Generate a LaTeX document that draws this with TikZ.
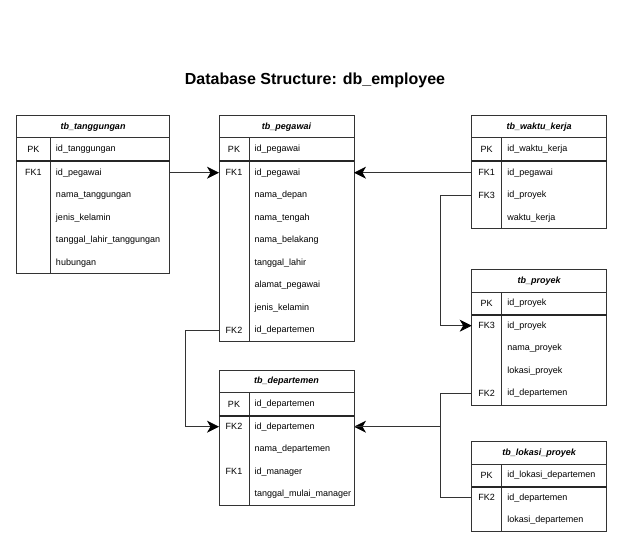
\documentclass[tikz,border=0pt]{standalone}
\usepackage{fontspec}
\setmainfont{Liberation Sans}
\usetikzlibrary{arrows.meta}

\begin{document}
\begin{tikzpicture}[x=1pt,y=-1pt,
  box/.style={draw=black!80,line width=0.8pt},
  sep/.style={draw=black!85,line width=1.6pt},
  hdr/.style={font=\fontsize{9}{10}\selectfont\bfseries\itshape},
  key/.style={font=\fontsize{9}{10}\selectfont},
  fld/.style={anchor=west,inner sep=0pt,font=\fontsize{9}{10}\selectfont},
  link/.style={draw=black!80,line width=0.8pt,-{Stealth[length=12pt,width=12pt,inset=3.5pt,color=black]}}]
  \useasboundingbox (0,0) rectangle (633,543);

  \node[font=\fontsize{16}{19}\selectfont\bfseries] (title) at (315,80) {Database Structure: db\_employee};

  % tb_tanggungan
  \draw[box] (16.3,115.7) rectangle (169.7,273.7);
  \draw[box] (16.3,137.7) -- (169.7,137.7);
  \draw[box] (50.3,137.7) -- (50.3,273.7);
  \draw[sep] (16.3,161.3) -- (169.7,161.3);
  \node[hdr] (tang-h) at (93,126.7) {tb\_tanggungan};
  \node[key] (tang-pk) at (33.3,149.5) {PK};
  \node[fld] (tang-0) at (55.8,149.5) {id\_tanggungan};
  \node[key] (tang-fk1) at (33.3,172.7) {FK1};
  \foreach \t [count=\i] in {id\_pegawai,nama\_tanggungan,jenis\_kelamin,tanggal\_lahir\_tanggungan,hubungan} {
    \node[fld] (tang-\i) at (55.8,{172.7+22.5*(\i-1)}) {\t};
  }
  \coordinate (tang-out) at (169.7,172.7);

  % tb_pegawai
  \draw[box] (219,115.7) rectangle (354,341);
  \draw[box] (219,137.7) -- (354,137.7);
  \draw[box] (249,137.7) -- (249,341);
  \draw[sep] (219,161.3) -- (354,161.3);
  \node[hdr] (peg-h) at (286.5,126.7) {tb\_pegawai};
  \node[key] (peg-pk) at (234,149.5) {PK};
  \node[fld] (peg-0) at (254.5,149.5) {id\_pegawai};
  \node[key] (peg-fk1) at (234,172.7) {FK1};
  \node[key] (peg-fk2) at (234,330.2) {FK2};
  \foreach \t [count=\i] in {id\_pegawai,nama\_depan,nama\_tengah,nama\_belakang,tanggal\_lahir,alamat\_pegawai,jenis\_kelamin,id\_departemen} {
    \node[fld] (peg-\i) at (254.5,{172.7+22.5*(\i-1)}) {\t};
  }
  \coordinate (peg-in1) at (219,172.7);
  \coordinate (peg-in2) at (354,172.7);
  \coordinate (peg-out) at (219,330.2);

  % tb_waktu_kerja
  \draw[box] (471.7,115.7) rectangle (606.7,228.7);
  \draw[box] (471.7,137.7) -- (606.7,137.7);
  \draw[box] (501.7,137.7) -- (501.7,228.7);
  \draw[sep] (471.7,161.3) -- (606.7,161.3);
  \node[hdr] (wk-h) at (539.2,126.7) {tb\_waktu\_kerja};
  \node[key] (wk-pk) at (486.7,149.5) {PK};
  \node[fld] (wk-0) at (507.2,149.5) {id\_waktu\_kerja};
  \node[key] (wk-fk1) at (486.7,172.7) {FK1};
  \node[key] (wk-fk3) at (486.7,195.2) {FK3};
  \foreach \t [count=\i] in {id\_pegawai,id\_proyek,waktu\_kerja} {
    \node[fld] (wk-\i) at (507.2,{172.7+22.5*(\i-1)}) {\t};
  }
  \coordinate (wk-out1) at (471.7,172.7);
  \coordinate (wk-out2) at (471.7,195.2);

  % tb_proyek
  \draw[box] (471.7,269.3) rectangle (606.7,405);
  \draw[box] (471.7,292) -- (606.7,292);
  \draw[box] (501.7,292) -- (501.7,405);
  \draw[sep] (471.7,315) -- (606.7,315);
  \node[hdr] (pro-h) at (539.2,280.7) {tb\_proyek};
  \node[key] (pro-pk) at (486.7,303.5) {PK};
  \node[fld] (pro-0) at (507.2,303.5) {id\_proyek};
  \node[key] (pro-fk3) at (486.7,325.7) {FK3};
  \node[key] (pro-fk2) at (486.7,393.2) {FK2};
  \foreach \t [count=\i] in {id\_proyek,nama\_proyek,lokasi\_proyek,id\_departemen} {
    \node[fld] (pro-\i) at (507.2,{325.7+22.5*(\i-1)}) {\t};
  }
  \coordinate (pro-in) at (471.7,325.7);
  \coordinate (pro-out) at (471.7,393.2);

  % tb_departemen
  \draw[box] (219,370) rectangle (354,505.3);
  \draw[box] (219,392.3) -- (354,392.3);
  \draw[box] (249,392.3) -- (249,505.3);
  \draw[sep] (219,415.7) -- (354,415.7);
  \node[hdr] (dep-h) at (286.5,381.2) {tb\_departemen};
  \node[key] (dep-pk) at (234,404) {PK};
  \node[fld] (dep-0) at (254.5,404) {id\_departemen};
  \node[key] (dep-fk2) at (234,426.7) {FK2};
  \node[key] (dep-fk1) at (234,471.7) {FK1};
  \foreach \t [count=\i] in {id\_departemen,nama\_departemen,id\_manager,tanggal\_mulai\_manager} {
    \node[fld] (dep-\i) at (254.5,{426.7+22.5*(\i-1)}) {\t};
  }
  \coordinate (dep-in1) at (219,426.7);
  \coordinate (dep-in2) at (354,426.7);

  % tb_lokasi_proyek
  \draw[box] (471.7,441.3) rectangle (606.7,531.7);
  \draw[box] (471.7,464) -- (606.7,464);
  \draw[box] (501.7,464) -- (501.7,531.7);
  \draw[sep] (471.7,486.7) -- (606.7,486.7);
  \node[hdr] (lok-h) at (539.2,452.7) {tb\_lokasi\_proyek};
  \node[key] (lok-pk) at (486.7,475.5) {PK};
  \node[fld] (lok-0) at (507.2,475.5) {id\_lokasi\_departemen};
  \node[key] (lok-fk2) at (486.7,497.7) {FK2};
  \foreach \t [count=\i] in {id\_departemen,lokasi\_departemen} {
    \node[fld] (lok-\i) at (507.2,{497.7+22.5*(\i-1)}) {\t};
  }
  \coordinate (lok-out) at (471.7,497.7);

  % relations
  \draw[link] (tang-out) -- (peg-in1);
  \draw[link] (wk-out1) -- (peg-in2);
  \draw[link] (wk-out2) -- ++(-31.5,0) |- (pro-in);
  \draw[link] (peg-out) -- ++(-33.7,0) |- (dep-in1);
  \draw[link] (pro-out) -- ++(-31,0) |- (dep-in2);
  \draw[box] (lok-out) -- ++(-31,0) |- (dep-in2);
\end{tikzpicture}
\end{document}
